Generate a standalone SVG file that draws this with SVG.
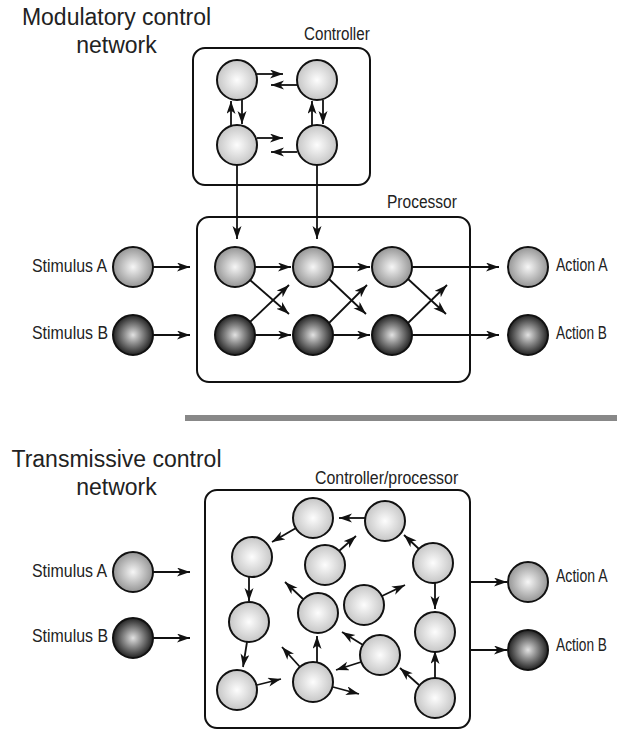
<svg xmlns="http://www.w3.org/2000/svg" width="617" height="730" viewBox="0 0 617 730">
<style>
.title{font-family:"Liberation Sans",Arial,sans-serif;font-size:23px;fill:#222;text-anchor:middle}
.lbl{font-family:"Liberation Sans",Arial,sans-serif;font-size:18.5px;fill:#222}
.box{fill:none;stroke:#111;stroke-width:2}
.c{stroke:#111;stroke-width:2}
.lt{fill:url(#gLight)}
.md{fill:url(#gMid)}
.dk{fill:url(#gDark)}
.conn line{stroke:#111;stroke-width:1.8;fill:none;marker-end:url(#ah)}
</style>
<defs>
<radialGradient id="gLight" cx="50%" cy="50%" r="50%"><stop offset="0" stop-color="#fdfdfd"/><stop offset="1" stop-color="#c6c6c6"/></radialGradient>
<radialGradient id="gMid" cx="50%" cy="50%" r="50%"><stop offset="0" stop-color="#f6f6f6"/><stop offset="1" stop-color="#959595"/></radialGradient>
<radialGradient id="gDark" cx="50%" cy="50%" r="50%"><stop offset="0" stop-color="#e2e2e2"/><stop offset="0.45" stop-color="#8a8a8a"/><stop offset="1" stop-color="#222"/></radialGradient>
<marker id="ah" markerUnits="userSpaceOnUse" markerWidth="15" markerHeight="10" refX="13" refY="4.5" orient="auto"><path d="M0,0 L13,4.5 L0,9 L3.5,4.5 z" fill="#111"/></marker>
</defs>

<text class="title" x="116.5" y="25">Modulatory control</text>
<text class="title" x="116.5" y="53">network</text>

<g id="controller">
<rect class="box" x="193" y="48" width="177" height="137" rx="12"/>
<text class="lbl" transform="translate(304,40) scale(0.82,1)">Controller</text>
</g>
<g id="processor">
<rect class="box" x="197" y="217" width="273" height="165" rx="12"/>
<text class="lbl" transform="translate(387,208) scale(0.84,1)">Processor</text>
</g>

<g id="c1"><circle class="c lt" cx="237" cy="80" r="20"/></g>
<g id="c2"><circle class="c lt" cx="317" cy="80" r="20"/></g>
<g id="c3"><circle class="c lt" cx="237" cy="145" r="20"/></g>
<g id="c4"><circle class="c lt" cx="317" cy="145" r="20"/></g>

<g id="p1"><circle class="c md" cx="235" cy="267" r="20"/></g>
<g id="p2"><circle class="c md" cx="313" cy="267" r="20"/></g>
<g id="p3"><circle class="c md" cx="392" cy="267" r="20"/></g>
<g id="p4"><circle class="c dk" cx="235" cy="335" r="20"/></g>
<g id="p5"><circle class="c dk" cx="313" cy="335" r="20"/></g>
<g id="p6"><circle class="c dk" cx="392" cy="335" r="20"/></g>

<g id="stimA1"><circle class="c md" cx="133" cy="267" r="20"/><text class="lbl" transform="translate(32,272) scale(0.86,1)">Stimulus A</text></g>
<g id="stimB1"><circle class="c dk" cx="133" cy="335" r="20"/><text class="lbl" transform="translate(32,339) scale(0.86,1)">Stimulus B</text></g>
<g id="actA1"><circle class="c md" cx="528" cy="267" r="20"/><text class="lbl" transform="translate(556,271) scale(0.76,1)">Action A</text></g>
<g id="actB1"><circle class="c dk" cx="528" cy="335" r="20"/><text class="lbl" transform="translate(556,339) scale(0.74,1)">Action B</text></g>

<line x1="185" y1="418" x2="617" y2="418" stroke="#888" stroke-width="6"/>

<text class="title" x="116.5" y="467">Transmissive control</text>
<text class="title" x="116.5" y="495">network</text>

<g id="ctrlproc">
<rect class="box" x="205" y="490" width="265" height="238" rx="12"/>
<text class="lbl" transform="translate(315,484) scale(0.86,1)">Controller/processor</text>
</g>
<g id="n1"><circle class="c lt" cx="313" cy="518" r="20"/></g>
<g id="n2"><circle class="c lt" cx="385" cy="521" r="20"/></g>
<g id="n3"><circle class="c lt" cx="252" cy="557" r="20"/></g>
<g id="n4"><circle class="c lt" cx="325" cy="565" r="20"/></g>
<g id="n5"><circle class="c lt" cx="433" cy="563" r="20"/></g>
<g id="n6"><circle class="c lt" cx="249" cy="622" r="20"/></g>
<g id="n7"><circle class="c lt" cx="318" cy="613" r="20"/></g>
<g id="n8"><circle class="c lt" cx="364" cy="605" r="20"/></g>
<g id="n9"><circle class="c lt" cx="435" cy="632" r="20"/></g>
<g id="n10"><circle class="c lt" cx="380" cy="655" r="20"/></g>
<g id="n11"><circle class="c lt" cx="237" cy="690" r="20"/></g>
<g id="n12"><circle class="c lt" cx="313" cy="682" r="20"/></g>
<g id="n13"><circle class="c lt" cx="435" cy="698" r="20"/></g>

<g id="stimA2"><circle class="c md" cx="133" cy="572" r="20"/><text class="lbl" transform="translate(32,577) scale(0.86,1)">Stimulus A</text></g>
<g id="stimB2"><circle class="c dk" cx="133" cy="638" r="20"/><text class="lbl" transform="translate(32,642) scale(0.86,1)">Stimulus B</text></g>
<g id="actA2"><circle class="c md" cx="528" cy="582" r="20"/><text class="lbl" transform="translate(556,582) scale(0.76,1)">Action A</text></g>
<g id="actB2"><circle class="c dk" cx="528" cy="650" r="20"/><text class="lbl" transform="translate(556,651) scale(0.74,1)">Action B</text></g>

<g id="connectors" class="conn">
<line x1="257" y1="74" x2="283" y2="74"/>
<line x1="297" y1="85" x2="271" y2="85"/>
<line x1="242" y1="100" x2="242" y2="124"/>
<line x1="231" y1="126" x2="231" y2="101"/>
<line x1="323" y1="100" x2="323" y2="124"/>
<line x1="312" y1="126" x2="312" y2="101"/>
<line x1="257" y1="138" x2="283" y2="138"/>
<line x1="297" y1="152" x2="271" y2="152"/>
<line x1="237" y1="165" x2="237" y2="239"/>
<line x1="317" y1="165" x2="317" y2="239"/>

<line x1="153" y1="267" x2="190" y2="267"/>
<line x1="153" y1="335" x2="190" y2="335"/>
<line x1="255" y1="267" x2="291" y2="267"/>
<line x1="333" y1="267" x2="370" y2="267"/>
<line x1="255" y1="335" x2="291" y2="335"/>
<line x1="333" y1="335" x2="370" y2="335"/>
<line x1="250" y1="280" x2="289" y2="314"/>
<line x1="250" y1="322" x2="289" y2="285"/>
<line x1="329" y1="279" x2="366" y2="314"/>
<line x1="329" y1="323" x2="367" y2="285"/>
<line x1="408" y1="279" x2="446" y2="314"/>
<line x1="408" y1="323" x2="447" y2="285"/>
<line x1="412" y1="267" x2="499" y2="267"/>
<line x1="412" y1="335" x2="499" y2="335"/>

<line x1="153" y1="572" x2="190" y2="572"/>
<line x1="153" y1="638" x2="190" y2="638"/>
<line x1="470" y1="582" x2="507" y2="582"/>
<line x1="470" y1="650" x2="507" y2="650"/>

<line x1="365" y1="518" x2="339" y2="518"/>
<line x1="296" y1="528" x2="272" y2="542"/>
<line x1="249" y1="577" x2="249" y2="601"/>
<line x1="247" y1="642" x2="243" y2="667"/>
<line x1="257" y1="685" x2="281" y2="679"/>
<line x1="339" y1="551" x2="356" y2="536"/>
<line x1="419" y1="549" x2="404" y2="535"/>
<line x1="435" y1="583" x2="435" y2="609"/>
<line x1="303" y1="599" x2="285" y2="582"/>
<line x1="382" y1="596" x2="405" y2="585"/>
<line x1="363" y1="645" x2="342" y2="632"/>
<line x1="361" y1="662" x2="336" y2="670"/>
<line x1="317" y1="662" x2="317" y2="636"/>
<line x1="300" y1="667" x2="282" y2="647"/>
<line x1="333" y1="687" x2="359" y2="694"/>
<line x1="435" y1="678" x2="435" y2="651"/>
<line x1="419" y1="685" x2="400" y2="668"/>
</g>
</svg>
